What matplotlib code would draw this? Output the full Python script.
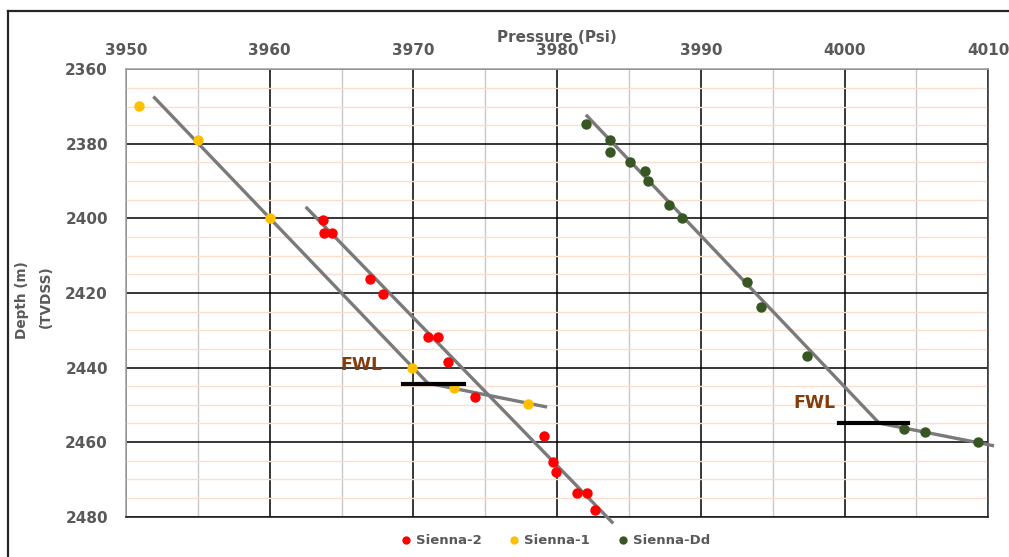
import matplotlib
matplotlib.use("Agg")
import matplotlib.pyplot as plt
from matplotlib.lines import Line2D
from matplotlib.ticker import MultipleLocator

#################################################
#            Data
#################################################
# Sienna-2 pressure points
s2_psi = [3963.7, 3963.8, 3964.3, 3967.0, 3967.9, 3971.0, 3971.7, 3972.4,
          3974.3, 3979.1, 3979.7, 3979.9, 3981.4, 3982.1, 3982.6]
s2_depth = [2400.5, 2404.0, 2404.0, 2416.2, 2420.2, 2431.7, 2431.7, 2438.5,
            2447.9, 2458.3, 2465.4, 2468.0, 2473.7, 2473.7, 2478.1]

# Sienna-1 pressure points
s1_psi = [3950.9, 3955.0, 3960.0, 3969.9, 3972.8, 3978.0]
s1_depth = [2369.8, 2378.9, 2400.0, 2440.0, 2445.6, 2449.8]

# Sienna-Dd pressure points
dd_psi = [3982.0, 3983.7, 3983.7, 3985.1, 3986.1, 3986.3, 3987.8, 3988.7,
          3993.2, 3994.2, 3997.4, 4004.1, 4005.6, 4009.3]
dd_depth = [2374.8, 2379.0, 2382.2, 2385.0, 2387.2, 2390.0, 2396.5, 2399.9,
            2417.1, 2423.7, 2437.0, 2456.5, 2457.4, 2460.0]

# gradient trend lines
s1_line_psi = [3951.9, 3971.0, 3979.3]
s1_line_depth = [2367.3, 2444.2, 2450.6]
s2_line_psi = [3962.5, 3983.9]
s2_line_depth = [2396.9, 2481.8]
dd_line_psi = [3982.0, 4002.4, 4010.4]
dd_line_depth = [2372.2, 2454.9, 2461.0]

# free water levels
fwl_psi = [(3969.3, 3973.5), (3999.6, 4004.4)]
fwl_depth = [2444.3, 2455.0]
fwl_label_psi = [3966.4, 3997.9]
fwl_label_depth = [2439.3, 2449.6]

series_names = ['Sienna-2', 'Sienna-1', 'Sienna-Dd']

#################################################
#                    Plot
#################################################
txt = '#595959'
fig = plt.figure(figsize=(10.09, 5.57), dpi=100)
ax = fig.add_axes([0.1249, 0.0724, 0.8546, 0.8032])

ax.set_xlim(3950, 4010)
ax.set_ylim(2480, 2360)

ax.xaxis.set_major_locator(MultipleLocator(10))
ax.xaxis.set_minor_locator(MultipleLocator(5))
ax.yaxis.set_major_locator(MultipleLocator(20))
ax.yaxis.set_minor_locator(MultipleLocator(5))

ax.grid(which='minor', axis='x', color='#c8c8c8', lw=1.0)
ax.grid(which='minor', axis='y', color='#fadfce', lw=1.0)
ax.grid(which='major', color='black', lw=1.1)
ax.set_axisbelow(True)

ax.xaxis.tick_top()
ax.xaxis.set_label_position('top')
ax.tick_params(which='both', length=0)
ax.tick_params(axis='x', pad=8)
ax.tick_params(axis='y', pad=13)
for lab in ax.get_xticklabels() + ax.get_yticklabels():
    lab.set_fontsize(11)
    lab.set_fontweight('bold')
    lab.set_color(txt)

ax.set_xlabel('Pressure (Psi)', fontsize=11, fontweight='bold', color=txt, labelpad=1)

# two-line depth label, placed like the original
fig.text(22 / 1009, 1 - 300 / 557, 'Depth (m)', rotation=90, fontsize=9.8,
         fontweight='bold', color=txt, ha='center', va='center')
fig.text(46 / 1009, 1 - 297 / 557, '(TVDSS)', rotation=90, fontsize=9.8,
         fontweight='bold', color=txt, ha='center', va='center')

ax.spines['top'].set_color('#a6a6a6')
ax.spines['left'].set_color('#a6a6a6')
ax.spines['right'].set_color('#404040')
ax.spines['bottom'].set_color('#202020')
for sp in ax.spines.values():
    sp.set_linewidth(1.2)

gray = '#7a7a7a'
for lp, ld in [(s1_line_psi, s1_line_depth), (s2_line_psi, s2_line_depth),
               (dd_line_psi, dd_line_depth)]:
    ax.plot(lp, ld, color=gray, lw=2.4, solid_capstyle='butt', zorder=3, clip_on=False)

ax.plot(s2_psi, s2_depth, 'o', color='#ff0000', ms=7.5, mec='none', zorder=4,
        label=series_names[0], clip_on=False)
ax.plot(s1_psi, s1_depth, 'o', color='#ffc000', ms=7.5, mec='none', zorder=4,
        label=series_names[1], clip_on=False)
ax.plot(dd_psi, dd_depth, 'o', color='#375623', ms=7.5, mec='none', zorder=4,
        label=series_names[2], clip_on=False)

for (p0, p1), d in zip(fwl_psi, fwl_depth):
    ax.plot([p0, p1], [d, d], color='black', lw=3, zorder=5)
for p, d in zip(fwl_label_psi, fwl_label_depth):
    ax.text(p, d, 'FWL', color='#843c0c', fontsize=12.5, fontweight='bold',
            ha='center', va='center', zorder=6)

leg = fig.legend(loc='center', bbox_to_anchor=(0.551, 0.029), ncol=3, frameon=False,
                 handlelength=0.6, handletextpad=0.45, columnspacing=2.2,
                 prop={'size': 9.5, 'weight': 'bold'}, markerscale=0.8)
for t in leg.get_texts():
    t.set_color(txt)

# outer frame of the original chart area
fig.add_artist(Line2D([8 / 1009, 1.0], [1 - 10.7 / 557] * 2, color='#262626', lw=1.6,
                      transform=fig.transFigure))
fig.add_artist(Line2D([8 / 1009] * 2, [0.0, 1 - 10.7 / 557], color='#262626', lw=1.6,
                      transform=fig.transFigure))

fig.savefig('out.png', dpi=100)
